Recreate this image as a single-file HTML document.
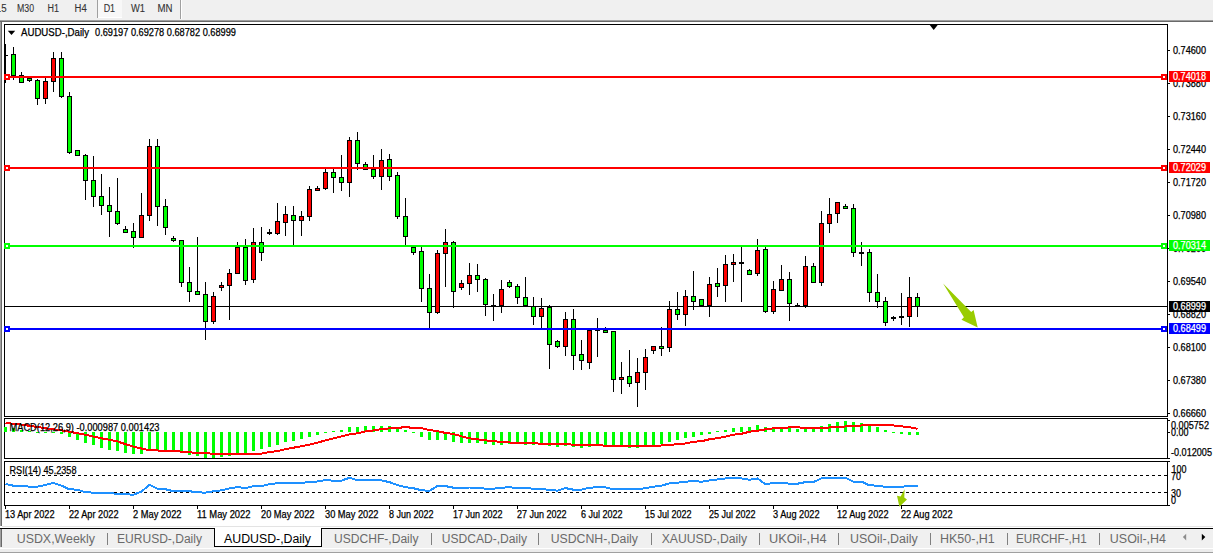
<!DOCTYPE html>
<html><head><meta charset="utf-8"><title>AUDUSD-,Daily</title>
<style>
html,body{margin:0;padding:0;background:#fff;}
body{width:1213px;height:555px;overflow:hidden;font-family:"Liberation Sans", sans-serif;}
svg text{white-space:pre;}
</style></head><body>
<svg width="1213" height="555" viewBox="0 0 1213 555" font-family='"Liberation Sans", sans-serif' style="display:block">
<rect x="0" y="0" width="1213" height="555" fill="#ffffff"/>
<rect x="0" y="0" width="1213" height="20" fill="#f0f0f0"/>
<rect x="0" y="20" width="1213" height="1" fill="#a0a0a0"/>
<rect x="0" y="21" width="1213" height="1" fill="#696969"/>
<rect x="97" y="0" width="1" height="18" fill="#a0a0a0"/>
<rect x="98" y="0" width="24" height="17" fill="#f8f8f8"/>
<rect x="98" y="17" width="24" height="1" fill="#ffffff"/>
<rect x="180" y="0" width="1" height="19" fill="#a0a0a0"/>
<rect x="181" y="0" width="1" height="19" fill="#ffffff"/>
<text x="-4.2" y="12" font-size="10" fill="#333333" stroke="#333333" stroke-width="0.1" textLength="10.8" lengthAdjust="spacingAndGlyphs" text-anchor="start" font-weight="normal">15</text>
<text x="17" y="12" font-size="10" fill="#333333" stroke="#333333" stroke-width="0.1" textLength="17" lengthAdjust="spacingAndGlyphs" text-anchor="start" font-weight="normal">M30</text>
<text x="47.5" y="12" font-size="10" fill="#333333" stroke="#333333" stroke-width="0.1" textLength="11.5" lengthAdjust="spacingAndGlyphs" text-anchor="start" font-weight="normal">H1</text>
<text x="74.5" y="12" font-size="10" fill="#333333" stroke="#333333" stroke-width="0.1" textLength="12.2" lengthAdjust="spacingAndGlyphs" text-anchor="start" font-weight="normal">H4</text>
<text x="103.7" y="12" font-size="10" fill="#333333" stroke="#333333" stroke-width="0.1" textLength="11.4" lengthAdjust="spacingAndGlyphs" text-anchor="start" font-weight="normal">D1</text>
<text x="131" y="12" font-size="10" fill="#333333" stroke="#333333" stroke-width="0.1" textLength="14" lengthAdjust="spacingAndGlyphs" text-anchor="start" font-weight="normal">W1</text>
<text x="157.5" y="12" font-size="10" fill="#333333" stroke="#333333" stroke-width="0.1" textLength="15" lengthAdjust="spacingAndGlyphs" text-anchor="start" font-weight="normal">MN</text>
<rect x="0" y="22" width="1" height="504" fill="#a0a0a0"/>
<rect x="1" y="22" width="1" height="504" fill="#696969"/>
<g shape-rendering="crispEdges">
<rect x="5" y="306" width="1162" height="1" fill="#000000"/>
<rect x="13" y="47" width="1" height="33" fill="#000"/>
<rect x="11" y="54" width="5" height="22" fill="#000"/>
<rect x="12" y="55" width="3" height="20" fill="#00ff00"/>
<rect x="21" y="72" width="1" height="11" fill="#000"/>
<rect x="19" y="75" width="5" height="8" fill="#000"/>
<rect x="20" y="76" width="3" height="6" fill="#00ff00"/>
<rect x="29" y="78" width="1" height="4" fill="#000"/>
<rect x="27" y="78" width="5" height="3" fill="#000"/>
<rect x="28" y="79" width="3" height="1" fill="#00ff00"/>
<rect x="37" y="79" width="1" height="26" fill="#000"/>
<rect x="35" y="80" width="5" height="19" fill="#000"/>
<rect x="36" y="81" width="3" height="17" fill="#00ff00"/>
<rect x="45" y="78" width="1" height="26" fill="#000"/>
<rect x="43" y="81" width="5" height="18" fill="#000"/>
<rect x="44" y="82" width="3" height="16" fill="#ff0000"/>
<rect x="53" y="52" width="1" height="40" fill="#000"/>
<rect x="51" y="58" width="5" height="24" fill="#000"/>
<rect x="52" y="59" width="3" height="22" fill="#ff0000"/>
<rect x="61" y="52" width="1" height="46" fill="#000"/>
<rect x="59" y="58" width="5" height="39" fill="#000"/>
<rect x="60" y="59" width="3" height="37" fill="#00ff00"/>
<rect x="69" y="92" width="1" height="62" fill="#000"/>
<rect x="67" y="96" width="5" height="57" fill="#000"/>
<rect x="68" y="97" width="3" height="55" fill="#00ff00"/>
<rect x="77" y="150" width="1" height="6" fill="#000"/>
<rect x="75" y="150" width="5" height="6" fill="#000"/>
<rect x="76" y="151" width="3" height="4" fill="#00ff00"/>
<rect x="85" y="154" width="1" height="46" fill="#000"/>
<rect x="83" y="155" width="5" height="26" fill="#000"/>
<rect x="84" y="156" width="3" height="24" fill="#00ff00"/>
<rect x="93" y="156" width="1" height="51" fill="#000"/>
<rect x="91" y="180" width="5" height="17" fill="#000"/>
<rect x="92" y="181" width="3" height="15" fill="#00ff00"/>
<rect x="101" y="174" width="1" height="41" fill="#000"/>
<rect x="99" y="196" width="5" height="10" fill="#000"/>
<rect x="100" y="197" width="3" height="8" fill="#00ff00"/>
<rect x="109" y="187" width="1" height="50" fill="#000"/>
<rect x="107" y="205" width="5" height="7" fill="#000"/>
<rect x="108" y="206" width="3" height="5" fill="#00ff00"/>
<rect x="117" y="178" width="1" height="47" fill="#000"/>
<rect x="115" y="211" width="5" height="13" fill="#000"/>
<rect x="116" y="212" width="3" height="11" fill="#00ff00"/>
<rect x="125" y="226" width="1" height="7" fill="#000"/>
<rect x="123" y="229" width="5" height="4" fill="#000"/>
<rect x="124" y="230" width="3" height="2" fill="#00ff00"/>
<rect x="133" y="223" width="1" height="25" fill="#000"/>
<rect x="131" y="231" width="5" height="7" fill="#000"/>
<rect x="132" y="232" width="3" height="5" fill="#00ff00"/>
<rect x="141" y="193" width="1" height="45" fill="#000"/>
<rect x="139" y="215" width="5" height="23" fill="#000"/>
<rect x="140" y="216" width="3" height="21" fill="#ff0000"/>
<rect x="149" y="139" width="1" height="82" fill="#000"/>
<rect x="147" y="146" width="5" height="70" fill="#000"/>
<rect x="148" y="147" width="3" height="68" fill="#ff0000"/>
<rect x="157" y="139" width="1" height="87" fill="#000"/>
<rect x="155" y="146" width="5" height="61" fill="#000"/>
<rect x="156" y="147" width="3" height="59" fill="#00ff00"/>
<rect x="165" y="199" width="1" height="36" fill="#000"/>
<rect x="163" y="206" width="5" height="22" fill="#000"/>
<rect x="164" y="207" width="3" height="20" fill="#00ff00"/>
<rect x="173" y="236" width="1" height="6" fill="#000"/>
<rect x="171" y="238" width="5" height="3" fill="#000"/>
<rect x="172" y="239" width="3" height="1" fill="#00ff00"/>
<rect x="181" y="240" width="1" height="47" fill="#000"/>
<rect x="179" y="240" width="5" height="43" fill="#000"/>
<rect x="180" y="241" width="3" height="41" fill="#00ff00"/>
<rect x="189" y="267" width="1" height="35" fill="#000"/>
<rect x="187" y="282" width="5" height="10" fill="#000"/>
<rect x="188" y="283" width="3" height="8" fill="#00ff00"/>
<rect x="197" y="237" width="1" height="58" fill="#000"/>
<rect x="195" y="291" width="5" height="4" fill="#000"/>
<rect x="196" y="292" width="3" height="2" fill="#00ff00"/>
<rect x="205" y="282" width="1" height="58" fill="#000"/>
<rect x="203" y="294" width="5" height="28" fill="#000"/>
<rect x="204" y="295" width="3" height="26" fill="#00ff00"/>
<rect x="213" y="292" width="1" height="32" fill="#000"/>
<rect x="211" y="296" width="5" height="26" fill="#000"/>
<rect x="212" y="297" width="3" height="24" fill="#ff0000"/>
<rect x="221" y="282" width="1" height="9" fill="#000"/>
<rect x="219" y="285" width="5" height="3" fill="#000"/>
<rect x="220" y="286" width="3" height="1" fill="#ff0000"/>
<rect x="229" y="269" width="1" height="51" fill="#000"/>
<rect x="227" y="273" width="5" height="13" fill="#000"/>
<rect x="228" y="274" width="3" height="11" fill="#ff0000"/>
<rect x="237" y="242" width="1" height="32" fill="#000"/>
<rect x="235" y="247" width="5" height="27" fill="#000"/>
<rect x="236" y="248" width="3" height="25" fill="#ff0000"/>
<rect x="245" y="239" width="1" height="46" fill="#000"/>
<rect x="243" y="247" width="5" height="34" fill="#000"/>
<rect x="244" y="248" width="3" height="32" fill="#00ff00"/>
<rect x="253" y="228" width="1" height="55" fill="#000"/>
<rect x="251" y="242" width="5" height="38" fill="#000"/>
<rect x="252" y="243" width="3" height="36" fill="#ff0000"/>
<rect x="261" y="227" width="1" height="34" fill="#000"/>
<rect x="259" y="242" width="5" height="11" fill="#000"/>
<rect x="260" y="243" width="3" height="9" fill="#00ff00"/>
<rect x="269" y="229" width="1" height="6" fill="#000"/>
<rect x="267" y="232" width="5" height="2" fill="#000"/>
<rect x="277" y="203" width="1" height="32" fill="#000"/>
<rect x="275" y="221" width="5" height="13" fill="#000"/>
<rect x="276" y="222" width="3" height="11" fill="#ff0000"/>
<rect x="285" y="206" width="1" height="30" fill="#000"/>
<rect x="283" y="214" width="5" height="9" fill="#000"/>
<rect x="284" y="215" width="3" height="7" fill="#ff0000"/>
<rect x="293" y="206" width="1" height="39" fill="#000"/>
<rect x="291" y="215" width="5" height="6" fill="#000"/>
<rect x="292" y="216" width="3" height="4" fill="#00ff00"/>
<rect x="301" y="211" width="1" height="25" fill="#000"/>
<rect x="299" y="216" width="5" height="5" fill="#000"/>
<rect x="300" y="217" width="3" height="3" fill="#ff0000"/>
<rect x="309" y="186" width="1" height="35" fill="#000"/>
<rect x="307" y="189" width="5" height="28" fill="#000"/>
<rect x="308" y="190" width="3" height="26" fill="#ff0000"/>
<rect x="317" y="186" width="1" height="5" fill="#000"/>
<rect x="315" y="188" width="5" height="3" fill="#000"/>
<rect x="316" y="189" width="3" height="1" fill="#ff0000"/>
<rect x="325" y="169" width="1" height="21" fill="#000"/>
<rect x="323" y="172" width="5" height="17" fill="#000"/>
<rect x="324" y="173" width="3" height="15" fill="#ff0000"/>
<rect x="333" y="169" width="1" height="24" fill="#000"/>
<rect x="331" y="172" width="5" height="6" fill="#000"/>
<rect x="332" y="173" width="3" height="4" fill="#00ff00"/>
<rect x="341" y="155" width="1" height="36" fill="#000"/>
<rect x="339" y="177" width="5" height="6" fill="#000"/>
<rect x="340" y="178" width="3" height="4" fill="#00ff00"/>
<rect x="349" y="137" width="1" height="60" fill="#000"/>
<rect x="347" y="140" width="5" height="43" fill="#000"/>
<rect x="348" y="141" width="3" height="41" fill="#ff0000"/>
<rect x="357" y="132" width="1" height="38" fill="#000"/>
<rect x="355" y="140" width="5" height="24" fill="#000"/>
<rect x="356" y="141" width="3" height="22" fill="#00ff00"/>
<rect x="365" y="162" width="1" height="8" fill="#000"/>
<rect x="363" y="164" width="5" height="6" fill="#000"/>
<rect x="364" y="165" width="3" height="4" fill="#00ff00"/>
<rect x="373" y="155" width="1" height="24" fill="#000"/>
<rect x="371" y="169" width="5" height="8" fill="#000"/>
<rect x="372" y="170" width="3" height="6" fill="#00ff00"/>
<rect x="381" y="149" width="1" height="41" fill="#000"/>
<rect x="379" y="160" width="5" height="17" fill="#000"/>
<rect x="380" y="161" width="3" height="15" fill="#ff0000"/>
<rect x="389" y="154" width="1" height="27" fill="#000"/>
<rect x="387" y="159" width="5" height="18" fill="#000"/>
<rect x="388" y="160" width="3" height="16" fill="#00ff00"/>
<rect x="397" y="172" width="1" height="47" fill="#000"/>
<rect x="395" y="175" width="5" height="42" fill="#000"/>
<rect x="396" y="176" width="3" height="40" fill="#00ff00"/>
<rect x="405" y="198" width="1" height="47" fill="#000"/>
<rect x="403" y="216" width="5" height="21" fill="#000"/>
<rect x="404" y="217" width="3" height="19" fill="#00ff00"/>
<rect x="413" y="245" width="1" height="10" fill="#000"/>
<rect x="411" y="247" width="5" height="6" fill="#000"/>
<rect x="412" y="248" width="3" height="4" fill="#00ff00"/>
<rect x="421" y="247" width="1" height="55" fill="#000"/>
<rect x="419" y="251" width="5" height="38" fill="#000"/>
<rect x="420" y="252" width="3" height="36" fill="#00ff00"/>
<rect x="429" y="274" width="1" height="54" fill="#000"/>
<rect x="427" y="288" width="5" height="25" fill="#000"/>
<rect x="428" y="289" width="3" height="23" fill="#00ff00"/>
<rect x="437" y="250" width="1" height="64" fill="#000"/>
<rect x="435" y="253" width="5" height="60" fill="#000"/>
<rect x="436" y="254" width="3" height="58" fill="#ff0000"/>
<rect x="445" y="229" width="1" height="58" fill="#000"/>
<rect x="443" y="242" width="5" height="12" fill="#000"/>
<rect x="444" y="243" width="3" height="10" fill="#ff0000"/>
<rect x="453" y="241" width="1" height="67" fill="#000"/>
<rect x="451" y="242" width="5" height="50" fill="#000"/>
<rect x="452" y="243" width="3" height="48" fill="#00ff00"/>
<rect x="461" y="280" width="1" height="10" fill="#000"/>
<rect x="459" y="283" width="5" height="5" fill="#000"/>
<rect x="460" y="284" width="3" height="3" fill="#ff0000"/>
<rect x="469" y="263" width="1" height="32" fill="#000"/>
<rect x="467" y="275" width="5" height="9" fill="#000"/>
<rect x="468" y="276" width="3" height="7" fill="#ff0000"/>
<rect x="477" y="264" width="1" height="28" fill="#000"/>
<rect x="475" y="275" width="5" height="5" fill="#000"/>
<rect x="476" y="276" width="3" height="3" fill="#00ff00"/>
<rect x="485" y="278" width="1" height="38" fill="#000"/>
<rect x="483" y="279" width="5" height="26" fill="#000"/>
<rect x="484" y="280" width="3" height="24" fill="#00ff00"/>
<rect x="493" y="294" width="1" height="27" fill="#000"/>
<rect x="491" y="305" width="5" height="2" fill="#000"/>
<rect x="501" y="280" width="1" height="33" fill="#000"/>
<rect x="499" y="289" width="5" height="17" fill="#000"/>
<rect x="500" y="290" width="3" height="15" fill="#ff0000"/>
<rect x="509" y="280" width="1" height="8" fill="#000"/>
<rect x="507" y="282" width="5" height="5" fill="#000"/>
<rect x="508" y="283" width="3" height="3" fill="#00ff00"/>
<rect x="517" y="284" width="1" height="20" fill="#000"/>
<rect x="515" y="286" width="5" height="12" fill="#000"/>
<rect x="516" y="287" width="3" height="10" fill="#00ff00"/>
<rect x="525" y="277" width="1" height="29" fill="#000"/>
<rect x="523" y="297" width="5" height="9" fill="#000"/>
<rect x="524" y="298" width="3" height="7" fill="#00ff00"/>
<rect x="533" y="297" width="1" height="28" fill="#000"/>
<rect x="531" y="306" width="5" height="11" fill="#000"/>
<rect x="532" y="307" width="3" height="9" fill="#00ff00"/>
<rect x="541" y="298" width="1" height="30" fill="#000"/>
<rect x="539" y="308" width="5" height="9" fill="#000"/>
<rect x="540" y="309" width="3" height="7" fill="#ff0000"/>
<rect x="549" y="305" width="1" height="64" fill="#000"/>
<rect x="547" y="307" width="5" height="38" fill="#000"/>
<rect x="548" y="308" width="3" height="36" fill="#00ff00"/>
<rect x="557" y="340" width="1" height="8" fill="#000"/>
<rect x="555" y="341" width="5" height="6" fill="#000"/>
<rect x="556" y="342" width="3" height="4" fill="#00ff00"/>
<rect x="565" y="312" width="1" height="44" fill="#000"/>
<rect x="563" y="319" width="5" height="28" fill="#000"/>
<rect x="564" y="320" width="3" height="26" fill="#ff0000"/>
<rect x="573" y="309" width="1" height="61" fill="#000"/>
<rect x="571" y="319" width="5" height="37" fill="#000"/>
<rect x="572" y="320" width="3" height="35" fill="#00ff00"/>
<rect x="581" y="340" width="1" height="30" fill="#000"/>
<rect x="579" y="354" width="5" height="7" fill="#000"/>
<rect x="580" y="355" width="3" height="5" fill="#00ff00"/>
<rect x="589" y="330" width="1" height="39" fill="#000"/>
<rect x="587" y="330" width="5" height="33" fill="#000"/>
<rect x="588" y="331" width="3" height="31" fill="#ff0000"/>
<rect x="597" y="318" width="1" height="39" fill="#000"/>
<rect x="595" y="329" width="5" height="2" fill="#000"/>
<rect x="605" y="327" width="1" height="6" fill="#000"/>
<rect x="603" y="330" width="5" height="3" fill="#000"/>
<rect x="604" y="331" width="3" height="1" fill="#00ff00"/>
<rect x="613" y="331" width="1" height="61" fill="#000"/>
<rect x="611" y="331" width="5" height="49" fill="#000"/>
<rect x="612" y="332" width="3" height="47" fill="#00ff00"/>
<rect x="621" y="362" width="1" height="32" fill="#000"/>
<rect x="619" y="377" width="5" height="3" fill="#000"/>
<rect x="620" y="378" width="3" height="1" fill="#ff0000"/>
<rect x="629" y="350" width="1" height="37" fill="#000"/>
<rect x="627" y="376" width="5" height="8" fill="#000"/>
<rect x="628" y="377" width="3" height="6" fill="#00ff00"/>
<rect x="637" y="358" width="1" height="49" fill="#000"/>
<rect x="635" y="372" width="5" height="11" fill="#000"/>
<rect x="636" y="373" width="3" height="9" fill="#ff0000"/>
<rect x="645" y="349" width="1" height="41" fill="#000"/>
<rect x="643" y="357" width="5" height="16" fill="#000"/>
<rect x="644" y="358" width="3" height="14" fill="#ff0000"/>
<rect x="653" y="346" width="1" height="8" fill="#000"/>
<rect x="651" y="346" width="5" height="5" fill="#000"/>
<rect x="652" y="347" width="3" height="3" fill="#ff0000"/>
<rect x="661" y="327" width="1" height="29" fill="#000"/>
<rect x="659" y="346" width="5" height="3" fill="#000"/>
<rect x="660" y="347" width="3" height="1" fill="#00ff00"/>
<rect x="669" y="301" width="1" height="51" fill="#000"/>
<rect x="667" y="309" width="5" height="39" fill="#000"/>
<rect x="668" y="310" width="3" height="37" fill="#ff0000"/>
<rect x="677" y="292" width="1" height="28" fill="#000"/>
<rect x="675" y="309" width="5" height="6" fill="#000"/>
<rect x="676" y="310" width="3" height="4" fill="#00ff00"/>
<rect x="685" y="290" width="1" height="36" fill="#000"/>
<rect x="683" y="296" width="5" height="19" fill="#000"/>
<rect x="684" y="297" width="3" height="17" fill="#ff0000"/>
<rect x="693" y="271" width="1" height="39" fill="#000"/>
<rect x="691" y="296" width="5" height="6" fill="#000"/>
<rect x="692" y="297" width="3" height="4" fill="#00ff00"/>
<rect x="701" y="299" width="1" height="7" fill="#000"/>
<rect x="699" y="299" width="5" height="7" fill="#000"/>
<rect x="700" y="300" width="3" height="5" fill="#00ff00"/>
<rect x="709" y="277" width="1" height="40" fill="#000"/>
<rect x="707" y="284" width="5" height="22" fill="#000"/>
<rect x="708" y="285" width="3" height="20" fill="#ff0000"/>
<rect x="717" y="268" width="1" height="29" fill="#000"/>
<rect x="715" y="283" width="5" height="4" fill="#000"/>
<rect x="716" y="284" width="3" height="2" fill="#00ff00"/>
<rect x="725" y="255" width="1" height="47" fill="#000"/>
<rect x="723" y="264" width="5" height="22" fill="#000"/>
<rect x="724" y="265" width="3" height="20" fill="#ff0000"/>
<rect x="733" y="254" width="1" height="28" fill="#000"/>
<rect x="731" y="262" width="5" height="3" fill="#000"/>
<rect x="732" y="263" width="3" height="1" fill="#ff0000"/>
<rect x="741" y="247" width="1" height="55" fill="#000"/>
<rect x="739" y="262" width="5" height="2" fill="#000"/>
<rect x="749" y="269" width="1" height="6" fill="#000"/>
<rect x="747" y="270" width="5" height="5" fill="#000"/>
<rect x="748" y="271" width="3" height="3" fill="#00ff00"/>
<rect x="757" y="239" width="1" height="37" fill="#000"/>
<rect x="755" y="250" width="5" height="24" fill="#000"/>
<rect x="756" y="251" width="3" height="22" fill="#ff0000"/>
<rect x="765" y="247" width="1" height="66" fill="#000"/>
<rect x="763" y="249" width="5" height="63" fill="#000"/>
<rect x="764" y="250" width="3" height="61" fill="#00ff00"/>
<rect x="773" y="281" width="1" height="33" fill="#000"/>
<rect x="771" y="289" width="5" height="23" fill="#000"/>
<rect x="772" y="290" width="3" height="21" fill="#ff0000"/>
<rect x="781" y="265" width="1" height="26" fill="#000"/>
<rect x="779" y="279" width="5" height="12" fill="#000"/>
<rect x="780" y="280" width="3" height="10" fill="#ff0000"/>
<rect x="789" y="272" width="1" height="49" fill="#000"/>
<rect x="787" y="279" width="5" height="25" fill="#000"/>
<rect x="788" y="280" width="3" height="23" fill="#00ff00"/>
<rect x="797" y="303" width="1" height="4" fill="#000"/>
<rect x="795" y="305" width="5" height="2" fill="#000"/>
<rect x="805" y="256" width="1" height="52" fill="#000"/>
<rect x="803" y="266" width="5" height="40" fill="#000"/>
<rect x="804" y="267" width="3" height="38" fill="#ff0000"/>
<rect x="813" y="263" width="1" height="20" fill="#000"/>
<rect x="811" y="266" width="5" height="17" fill="#000"/>
<rect x="812" y="267" width="3" height="15" fill="#00ff00"/>
<rect x="821" y="211" width="1" height="75" fill="#000"/>
<rect x="819" y="223" width="5" height="60" fill="#000"/>
<rect x="820" y="224" width="3" height="58" fill="#ff0000"/>
<rect x="829" y="198" width="1" height="35" fill="#000"/>
<rect x="827" y="214" width="5" height="10" fill="#000"/>
<rect x="828" y="215" width="3" height="8" fill="#ff0000"/>
<rect x="837" y="202" width="1" height="21" fill="#000"/>
<rect x="835" y="202" width="5" height="12" fill="#000"/>
<rect x="836" y="203" width="3" height="10" fill="#ff0000"/>
<rect x="845" y="204" width="1" height="5" fill="#000"/>
<rect x="843" y="206" width="5" height="3" fill="#000"/>
<rect x="844" y="207" width="3" height="1" fill="#00ff00"/>
<rect x="853" y="204" width="1" height="53" fill="#000"/>
<rect x="851" y="208" width="5" height="45" fill="#000"/>
<rect x="852" y="209" width="3" height="43" fill="#00ff00"/>
<rect x="861" y="242" width="1" height="24" fill="#000"/>
<rect x="859" y="252" width="5" height="2" fill="#000"/>
<rect x="869" y="249" width="1" height="53" fill="#000"/>
<rect x="867" y="252" width="5" height="41" fill="#000"/>
<rect x="868" y="253" width="3" height="39" fill="#00ff00"/>
<rect x="877" y="274" width="1" height="34" fill="#000"/>
<rect x="875" y="292" width="5" height="10" fill="#000"/>
<rect x="876" y="293" width="3" height="8" fill="#00ff00"/>
<rect x="885" y="297" width="1" height="29" fill="#000"/>
<rect x="883" y="301" width="5" height="22" fill="#000"/>
<rect x="884" y="302" width="3" height="20" fill="#00ff00"/>
<rect x="893" y="316" width="1" height="5" fill="#000"/>
<rect x="891" y="317" width="5" height="2" fill="#000"/>
<rect x="901" y="293" width="1" height="32" fill="#000"/>
<rect x="899" y="316" width="5" height="2" fill="#000"/>
<rect x="909" y="277" width="1" height="50" fill="#000"/>
<rect x="907" y="297" width="5" height="20" fill="#000"/>
<rect x="908" y="298" width="3" height="18" fill="#ff0000"/>
<rect x="917" y="293" width="1" height="24" fill="#000"/>
<rect x="915" y="297" width="5" height="10" fill="#000"/>
<rect x="916" y="298" width="3" height="8" fill="#00ff00"/>
<rect x="5" y="44" width="1" height="39" fill="#000"/>
<rect x="5" y="55" width="3" height="1" fill="#000"/>
<rect x="5" y="76" width="1162" height="2" fill="#ff0000"/>
<rect x="5" y="167" width="1162" height="2" fill="#ff0000"/>
<rect x="5" y="245" width="1162" height="2" fill="#00ff00"/>
<rect x="5" y="328" width="1162" height="2" fill="#0000ff"/>
<rect x="4" y="74" width="6" height="6" fill="#ff0000"/>
<rect x="6" y="76" width="2" height="2" fill="#ffffff"/>
<rect x="1161" y="74" width="6" height="6" fill="#ff0000"/>
<rect x="1163" y="76" width="2" height="2" fill="#ffffff"/>
<rect x="4" y="165" width="6" height="6" fill="#ff0000"/>
<rect x="6" y="167" width="2" height="2" fill="#ffffff"/>
<rect x="1161" y="165" width="6" height="6" fill="#ff0000"/>
<rect x="1163" y="167" width="2" height="2" fill="#ffffff"/>
<rect x="4" y="243" width="6" height="6" fill="#00ff00"/>
<rect x="6" y="245" width="2" height="2" fill="#ffffff"/>
<rect x="1161" y="243" width="6" height="6" fill="#00ff00"/>
<rect x="1163" y="245" width="2" height="2" fill="#ffffff"/>
<rect x="4" y="326" width="6" height="6" fill="#0000ff"/>
<rect x="6" y="328" width="2" height="2" fill="#ffffff"/>
<rect x="1161" y="326" width="6" height="6" fill="#0000ff"/>
<rect x="1163" y="328" width="2" height="2" fill="#ffffff"/>
</g>
<polygon points="943.1,283.4 971.2,311.9 973.6,310 977.7,327.4 961.5,319.7 963.9,317.3" fill="#99cc00"/>
<g shape-rendering="crispEdges" fill="none" stroke="#000" stroke-width="1">
<rect x="4.5" y="24.5" width="1163" height="392"/>
<rect x="4.5" y="418.5" width="1163" height="40"/>
<rect x="4.5" y="461.5" width="1163" height="44"/>
</g>
<g shape-rendering="crispEdges">
<rect x="4" y="74" width="6" height="6" fill="#ff0000"/>
<rect x="6" y="76" width="2" height="2" fill="#ffffff"/>
<rect x="4" y="165" width="6" height="6" fill="#ff0000"/>
<rect x="6" y="167" width="2" height="2" fill="#ffffff"/>
<rect x="4" y="243" width="6" height="6" fill="#00ff00"/>
<rect x="6" y="245" width="2" height="2" fill="#ffffff"/>
<rect x="4" y="326" width="6" height="6" fill="#0000ff"/>
<rect x="6" y="328" width="2" height="2" fill="#ffffff"/>
</g>
<polygon points="929,24 938.5,24 933.7,30" fill="#000"/>
<polygon points="7.8,30.8 15.2,30.8 11.5,35" fill="#000"/>
<text x="21" y="36" font-size="10" fill="#000" stroke="#000" stroke-width="0.25" textLength="68" lengthAdjust="spacingAndGlyphs" text-anchor="start" font-weight="normal">AUDUSD-,Daily</text>
<text x="95" y="36" font-size="10" fill="#000" stroke="#000" stroke-width="0.25" textLength="141" lengthAdjust="spacingAndGlyphs" text-anchor="start" font-weight="normal">0.69197 0.69278 0.68782 0.68999</text>
<g shape-rendering="crispEdges">
<rect x="1168" y="50" width="2" height="1" fill="#000"/>
<rect x="1168" y="83" width="2" height="1" fill="#000"/>
<rect x="1168" y="116" width="2" height="1" fill="#000"/>
<rect x="1168" y="149" width="2" height="1" fill="#000"/>
<rect x="1168" y="182" width="2" height="1" fill="#000"/>
<rect x="1168" y="215" width="2" height="1" fill="#000"/>
<rect x="1168" y="248" width="2" height="1" fill="#000"/>
<rect x="1168" y="281" width="2" height="1" fill="#000"/>
<rect x="1168" y="314" width="2" height="1" fill="#000"/>
<rect x="1168" y="347" width="2" height="1" fill="#000"/>
<rect x="1168" y="380" width="2" height="1" fill="#000"/>
<rect x="1168" y="413" width="2" height="1" fill="#000"/>
</g>
<text x="1173" y="54" font-size="10" fill="#000" stroke="#000" stroke-width="0.25" textLength="33" lengthAdjust="spacingAndGlyphs" text-anchor="start" font-weight="normal">0.74600</text>
<text x="1173" y="87" font-size="10" fill="#000" stroke="#000" stroke-width="0.25" textLength="33" lengthAdjust="spacingAndGlyphs" text-anchor="start" font-weight="normal">0.73880</text>
<text x="1173" y="120" font-size="10" fill="#000" stroke="#000" stroke-width="0.25" textLength="33" lengthAdjust="spacingAndGlyphs" text-anchor="start" font-weight="normal">0.73160</text>
<text x="1173" y="153" font-size="10" fill="#000" stroke="#000" stroke-width="0.25" textLength="33" lengthAdjust="spacingAndGlyphs" text-anchor="start" font-weight="normal">0.72440</text>
<text x="1173" y="186" font-size="10" fill="#000" stroke="#000" stroke-width="0.25" textLength="33" lengthAdjust="spacingAndGlyphs" text-anchor="start" font-weight="normal">0.71720</text>
<text x="1173" y="219" font-size="10" fill="#000" stroke="#000" stroke-width="0.25" textLength="33" lengthAdjust="spacingAndGlyphs" text-anchor="start" font-weight="normal">0.70980</text>
<text x="1173" y="252" font-size="10" fill="#000" stroke="#000" stroke-width="0.25" textLength="33" lengthAdjust="spacingAndGlyphs" text-anchor="start" font-weight="normal">0.70260</text>
<text x="1173" y="285" font-size="10" fill="#000" stroke="#000" stroke-width="0.25" textLength="33" lengthAdjust="spacingAndGlyphs" text-anchor="start" font-weight="normal">0.69540</text>
<text x="1173" y="318" font-size="10" fill="#000" stroke="#000" stroke-width="0.25" textLength="33" lengthAdjust="spacingAndGlyphs" text-anchor="start" font-weight="normal">0.68820</text>
<text x="1173" y="351" font-size="10" fill="#000" stroke="#000" stroke-width="0.25" textLength="33" lengthAdjust="spacingAndGlyphs" text-anchor="start" font-weight="normal">0.68100</text>
<text x="1173" y="384" font-size="10" fill="#000" stroke="#000" stroke-width="0.25" textLength="33" lengthAdjust="spacingAndGlyphs" text-anchor="start" font-weight="normal">0.67380</text>
<text x="1173" y="417" font-size="10" fill="#000" stroke="#000" stroke-width="0.25" textLength="33" lengthAdjust="spacingAndGlyphs" text-anchor="start" font-weight="normal">0.66660</text>
<rect x="1169" y="71" width="41" height="11" fill="#ff0000" shape-rendering="crispEdges"/>
<text x="1173" y="80" font-size="10" fill="#fff" stroke="#fff" stroke-width="0.25" textLength="33" lengthAdjust="spacingAndGlyphs" text-anchor="start" font-weight="normal">0.74018</text>
<rect x="1169" y="162" width="41" height="11" fill="#ff0000" shape-rendering="crispEdges"/>
<text x="1173" y="171" font-size="10" fill="#fff" stroke="#fff" stroke-width="0.25" textLength="33" lengthAdjust="spacingAndGlyphs" text-anchor="start" font-weight="normal">0.72029</text>
<rect x="1169" y="240" width="41" height="11" fill="#00ff00" shape-rendering="crispEdges"/>
<text x="1173" y="249" font-size="10" fill="#fff" stroke="#fff" stroke-width="0.25" textLength="33" lengthAdjust="spacingAndGlyphs" text-anchor="start" font-weight="normal">0.70314</text>
<rect x="1169" y="301" width="41" height="11" fill="#000000" shape-rendering="crispEdges"/>
<text x="1173" y="310" font-size="10" fill="#fff" stroke="#fff" stroke-width="0.25" textLength="33" lengthAdjust="spacingAndGlyphs" text-anchor="start" font-weight="normal">0.68999</text>
<rect x="1169" y="323" width="41" height="11" fill="#0000ff" shape-rendering="crispEdges"/>
<text x="1173" y="332" font-size="10" fill="#fff" stroke="#fff" stroke-width="0.25" textLength="33" lengthAdjust="spacingAndGlyphs" text-anchor="start" font-weight="normal">0.68499</text>
<g shape-rendering="crispEdges">
<rect x="4" y="427" width="3" height="5" fill="#00ff00"/>
<rect x="12" y="428" width="3" height="4" fill="#00ff00"/>
<rect x="20" y="430" width="3" height="2" fill="#00ff00"/>
<rect x="28" y="431" width="3" height="1" fill="#00ff00"/>
<rect x="36" y="432" width="3" height="1" fill="#00ff00"/>
<rect x="44" y="432" width="3" height="1" fill="#00ff00"/>
<rect x="52" y="432" width="3" height="1" fill="#00ff00"/>
<rect x="60" y="432" width="3" height="2" fill="#00ff00"/>
<rect x="68" y="432" width="3" height="5" fill="#00ff00"/>
<rect x="76" y="432" width="3" height="8" fill="#00ff00"/>
<rect x="84" y="432" width="3" height="11" fill="#00ff00"/>
<rect x="92" y="432" width="3" height="13" fill="#00ff00"/>
<rect x="100" y="432" width="3" height="16" fill="#00ff00"/>
<rect x="108" y="432" width="3" height="18" fill="#00ff00"/>
<rect x="116" y="432" width="3" height="19" fill="#00ff00"/>
<rect x="124" y="432" width="3" height="21" fill="#00ff00"/>
<rect x="132" y="432" width="3" height="22" fill="#00ff00"/>
<rect x="140" y="432" width="3" height="22" fill="#00ff00"/>
<rect x="148" y="432" width="3" height="19" fill="#00ff00"/>
<rect x="156" y="432" width="3" height="18" fill="#00ff00"/>
<rect x="164" y="432" width="3" height="19" fill="#00ff00"/>
<rect x="172" y="432" width="3" height="18" fill="#00ff00"/>
<rect x="180" y="432" width="3" height="21" fill="#00ff00"/>
<rect x="188" y="432" width="3" height="23" fill="#00ff00"/>
<rect x="196" y="432" width="3" height="24" fill="#00ff00"/>
<rect x="204" y="432" width="3" height="26" fill="#00ff00"/>
<rect x="212" y="432" width="3" height="26" fill="#00ff00"/>
<rect x="220" y="432" width="3" height="25" fill="#00ff00"/>
<rect x="228" y="432" width="3" height="24" fill="#00ff00"/>
<rect x="236" y="432" width="3" height="21" fill="#00ff00"/>
<rect x="244" y="432" width="3" height="21" fill="#00ff00"/>
<rect x="252" y="432" width="3" height="19" fill="#00ff00"/>
<rect x="260" y="432" width="3" height="17" fill="#00ff00"/>
<rect x="268" y="432" width="3" height="15" fill="#00ff00"/>
<rect x="276" y="432" width="3" height="13" fill="#00ff00"/>
<rect x="284" y="432" width="3" height="10" fill="#00ff00"/>
<rect x="292" y="432" width="3" height="9" fill="#00ff00"/>
<rect x="300" y="432" width="3" height="7" fill="#00ff00"/>
<rect x="308" y="432" width="3" height="5" fill="#00ff00"/>
<rect x="316" y="432" width="3" height="3" fill="#00ff00"/>
<rect x="324" y="432" width="3" height="1" fill="#00ff00"/>
<rect x="332" y="431" width="3" height="1" fill="#00ff00"/>
<rect x="340" y="430" width="3" height="2" fill="#00ff00"/>
<rect x="348" y="427" width="3" height="5" fill="#00ff00"/>
<rect x="356" y="427" width="3" height="5" fill="#00ff00"/>
<rect x="364" y="426" width="3" height="6" fill="#00ff00"/>
<rect x="372" y="426" width="3" height="6" fill="#00ff00"/>
<rect x="380" y="426" width="3" height="6" fill="#00ff00"/>
<rect x="388" y="426" width="3" height="6" fill="#00ff00"/>
<rect x="396" y="428" width="3" height="4" fill="#00ff00"/>
<rect x="404" y="430" width="3" height="2" fill="#00ff00"/>
<rect x="412" y="432" width="3" height="1" fill="#00ff00"/>
<rect x="420" y="432" width="3" height="5" fill="#00ff00"/>
<rect x="428" y="432" width="3" height="8" fill="#00ff00"/>
<rect x="436" y="432" width="3" height="8" fill="#00ff00"/>
<rect x="444" y="432" width="3" height="8" fill="#00ff00"/>
<rect x="452" y="432" width="3" height="10" fill="#00ff00"/>
<rect x="460" y="432" width="3" height="11" fill="#00ff00"/>
<rect x="468" y="432" width="3" height="11" fill="#00ff00"/>
<rect x="476" y="432" width="3" height="11" fill="#00ff00"/>
<rect x="484" y="432" width="3" height="12" fill="#00ff00"/>
<rect x="492" y="432" width="3" height="13" fill="#00ff00"/>
<rect x="500" y="432" width="3" height="13" fill="#00ff00"/>
<rect x="508" y="432" width="3" height="12" fill="#00ff00"/>
<rect x="516" y="432" width="3" height="11" fill="#00ff00"/>
<rect x="524" y="432" width="3" height="13" fill="#00ff00"/>
<rect x="532" y="432" width="3" height="13" fill="#00ff00"/>
<rect x="540" y="432" width="3" height="12" fill="#00ff00"/>
<rect x="548" y="432" width="3" height="14" fill="#00ff00"/>
<rect x="556" y="432" width="3" height="15" fill="#00ff00"/>
<rect x="564" y="432" width="3" height="14" fill="#00ff00"/>
<rect x="572" y="432" width="3" height="15" fill="#00ff00"/>
<rect x="580" y="432" width="3" height="16" fill="#00ff00"/>
<rect x="588" y="432" width="3" height="15" fill="#00ff00"/>
<rect x="596" y="432" width="3" height="12" fill="#00ff00"/>
<rect x="604" y="432" width="3" height="14" fill="#00ff00"/>
<rect x="612" y="432" width="3" height="13" fill="#00ff00"/>
<rect x="620" y="432" width="3" height="13" fill="#00ff00"/>
<rect x="628" y="432" width="3" height="16" fill="#00ff00"/>
<rect x="636" y="432" width="3" height="16" fill="#00ff00"/>
<rect x="644" y="432" width="3" height="13" fill="#00ff00"/>
<rect x="652" y="432" width="3" height="13" fill="#00ff00"/>
<rect x="660" y="432" width="3" height="12" fill="#00ff00"/>
<rect x="668" y="432" width="3" height="10" fill="#00ff00"/>
<rect x="676" y="432" width="3" height="8" fill="#00ff00"/>
<rect x="684" y="432" width="3" height="6" fill="#00ff00"/>
<rect x="692" y="432" width="3" height="5" fill="#00ff00"/>
<rect x="700" y="432" width="3" height="3" fill="#00ff00"/>
<rect x="708" y="432" width="3" height="2" fill="#00ff00"/>
<rect x="716" y="431" width="3" height="1" fill="#00ff00"/>
<rect x="724" y="430" width="3" height="2" fill="#00ff00"/>
<rect x="732" y="428" width="3" height="4" fill="#00ff00"/>
<rect x="740" y="427" width="3" height="5" fill="#00ff00"/>
<rect x="748" y="427" width="3" height="5" fill="#00ff00"/>
<rect x="756" y="425" width="3" height="7" fill="#00ff00"/>
<rect x="764" y="427" width="3" height="5" fill="#00ff00"/>
<rect x="772" y="427" width="3" height="5" fill="#00ff00"/>
<rect x="780" y="428" width="3" height="4" fill="#00ff00"/>
<rect x="788" y="427" width="3" height="5" fill="#00ff00"/>
<rect x="796" y="429" width="3" height="3" fill="#00ff00"/>
<rect x="804" y="428" width="3" height="4" fill="#00ff00"/>
<rect x="812" y="428" width="3" height="4" fill="#00ff00"/>
<rect x="820" y="426" width="3" height="6" fill="#00ff00"/>
<rect x="828" y="424" width="3" height="8" fill="#00ff00"/>
<rect x="836" y="422" width="3" height="10" fill="#00ff00"/>
<rect x="844" y="421" width="3" height="11" fill="#00ff00"/>
<rect x="852" y="422" width="3" height="10" fill="#00ff00"/>
<rect x="860" y="423" width="3" height="9" fill="#00ff00"/>
<rect x="868" y="426" width="3" height="6" fill="#00ff00"/>
<rect x="876" y="427" width="3" height="5" fill="#00ff00"/>
<rect x="884" y="430" width="3" height="2" fill="#00ff00"/>
<rect x="892" y="432" width="3" height="1" fill="#00ff00"/>
<rect x="900" y="432" width="3" height="2" fill="#00ff00"/>
<rect x="908" y="432" width="3" height="3" fill="#00ff00"/>
<rect x="916" y="432" width="3" height="3" fill="#00ff00"/>
</g>
<polyline points="5.5,423 13.5,423.7 21.5,424.6 29.5,425.8 37.5,427 45.5,428.3 53.5,429.3 61.5,430.3 69.5,431.8 77.5,433.2 85.5,434.8 93.5,436.6 101.5,438.3 109.5,439.8 117.5,441.4 125.5,444.2 133.5,446.7 141.5,448.5 149.5,450.2 157.5,450.5 165.5,450.9 173.5,451.1 181.5,451.6 189.5,452.4 197.5,452.8 205.5,453.4 213.5,453.6 221.5,454.2 229.5,454.3 237.5,454.1 245.5,454.1 253.5,454.1 261.5,453.6 269.5,452.1 277.5,451.1 285.5,449.2 293.5,447.7 301.5,446.2 309.5,444.7 317.5,442.7 325.5,440.3 333.5,438.3 341.5,436.3 349.5,434.3 357.5,433.3 365.5,431.4 373.5,430.4 381.5,429.1 389.5,428.4 397.5,427.9 405.5,427.1 413.5,427.9 421.5,428.1 429.5,430.1 437.5,431.1 445.5,433 453.5,434 461.5,436.3 469.5,438.3 477.5,439.3 485.5,440.3 493.5,441.2 501.5,441.9 509.5,442.5 517.5,442.9 525.5,442.9 533.5,442.9 541.5,443.9 549.5,443.9 557.5,443.9 565.5,443.9 573.5,444.8 581.5,444.8 589.5,444.8 597.5,444.8 605.5,445.8 613.5,445.8 621.5,445.8 629.5,445.8 637.5,445.8 645.5,445.8 653.5,445.8 661.5,445.5 669.5,444.8 677.5,444.3 685.5,443.5 693.5,441.8 701.5,441.2 709.5,439.3 717.5,438.2 725.5,436.6 733.5,434.7 741.5,433.8 749.5,431.7 757.5,430.8 765.5,429.3 773.5,428.3 781.5,428.3 789.5,427.3 797.5,427.3 805.5,428 813.5,428 821.5,428 829.5,427.5 837.5,427 845.5,426.5 853.5,426 861.5,425.5 869.5,425 877.5,425 885.5,425 893.5,425.5 901.5,426.3 909.5,427.2 917.5,428.8" fill="none" stroke="#ff0000" stroke-width="2" stroke-linejoin="round" shape-rendering="crispEdges"/>
<text x="9.5" y="431" font-size="10" fill="#000" stroke="#000" stroke-width="0.25" textLength="150" lengthAdjust="spacingAndGlyphs" text-anchor="start" font-weight="normal">MACD(12,26,9) -0.000987 0.001423</text>
<g shape-rendering="crispEdges">
<rect x="1168" y="420" width="2" height="1" fill="#000"/>
<rect x="1168" y="432" width="2" height="1" fill="#000"/>
<rect x="1168" y="458" width="2" height="1" fill="#000"/>
</g>
<text x="1171" y="429" font-size="10" fill="#000" stroke="#000" stroke-width="0.25" textLength="38" lengthAdjust="spacingAndGlyphs" text-anchor="start" font-weight="normal">0.005752</text>
<text x="1171" y="436" font-size="10" fill="#000" stroke="#000" stroke-width="0.25" textLength="17.5" lengthAdjust="spacingAndGlyphs" text-anchor="start" font-weight="normal">0.00</text>
<text x="1171" y="456" font-size="10" fill="#000" stroke="#000" stroke-width="0.25" textLength="41" lengthAdjust="spacingAndGlyphs" text-anchor="start" font-weight="normal">-0.012005</text>
<g shape-rendering="crispEdges">
<line x1="6" y1="475.5" x2="1167" y2="475.5" stroke="#000" stroke-width="1" stroke-dasharray="3,3"/>
<line x1="6" y1="492.5" x2="1167" y2="492.5" stroke="#000" stroke-width="1" stroke-dasharray="3,3"/>
<rect x="1164" y="475" width="3" height="1" fill="#000"/>
<rect x="1164" y="492" width="3" height="1" fill="#000"/>
<rect x="1168" y="461" width="2" height="1" fill="#000"/>
<rect x="1168" y="505" width="2" height="1" fill="#000"/>
</g>
<polyline points="5.5,483.9 13.5,485.7 21.5,485.9 29.5,486.7 37.5,486.7 45.5,484.9 53.5,482.9 61.5,485.7 69.5,489.3 77.5,489.7 85.5,492.3 93.5,492.6 101.5,492.6 109.5,493.4 117.5,493.6 125.5,494.4 133.5,494.6 141.5,491.6 149.5,484.7 157.5,488.7 165.5,489.3 173.5,491.2 181.5,491.2 189.5,491.2 197.5,492.4 205.5,492.6 213.5,491.2 221.5,490.3 229.5,488.4 237.5,487.1 245.5,488.1 253.5,486.1 261.5,486.1 269.5,484.1 277.5,483.3 285.5,482.7 293.5,482.7 301.5,482.7 309.5,482.3 317.5,481.5 325.5,480.0 333.5,480.7 341.5,480.7 349.5,477.7 357.5,480.4 365.5,480.4 373.5,480.4 381.5,480.4 389.5,482.2 397.5,485.1 405.5,487.1 413.5,488.3 421.5,490.2 429.5,490.9 437.5,485.9 445.5,486.1 453.5,487.7 461.5,487.7 469.5,487.5 477.5,487.7 485.5,488.7 493.5,488.7 501.5,487.7 509.5,487.3 517.5,488.1 525.5,488.1 533.5,488.7 541.5,488.7 549.5,490.1 557.5,490.6 565.5,488.1 573.5,489.7 581.5,489.7 589.5,487.7 597.5,487.3 605.5,487.3 613.5,489.3 621.5,489.3 629.5,489.3 637.5,489.3 645.5,488.1 653.5,486.7 661.5,485.7 669.5,483.3 677.5,482.7 685.5,481.7 693.5,481.1 701.5,481.7 709.5,480.4 717.5,479.4 725.5,478.4 733.5,477.8 741.5,478.4 749.5,479.8 757.5,478.4 765.5,484.3 773.5,482.9 781.5,482.9 789.5,483.7 797.5,483.7 805.5,482.1 813.5,482.1 821.5,478.2 829.5,477.8 837.5,477.8 845.5,477.8 853.5,481.7 861.5,481.7 869.5,485.3 877.5,485.7 885.5,486.9 893.5,486.9 901.5,486.9 909.5,485.7 917.5,485.7" fill="none" stroke="#1e90ff" stroke-width="2" stroke-linejoin="round" shape-rendering="crispEdges"/>
<text x="9.5" y="474" font-size="10" fill="#000" stroke="#000" stroke-width="0.25" textLength="67" lengthAdjust="spacingAndGlyphs" text-anchor="start" font-weight="normal">RSI(14) 45.2358</text>
<text x="1171.5" y="473" font-size="10" fill="#000" stroke="#000" stroke-width="0.25" textLength="15" lengthAdjust="spacingAndGlyphs" text-anchor="start" font-weight="normal">100</text>
<text x="1171" y="480" font-size="10" fill="#000" stroke="#000" stroke-width="0.25" textLength="10" lengthAdjust="spacingAndGlyphs" text-anchor="start" font-weight="normal">70</text>
<text x="1171" y="497" font-size="10" fill="#000" stroke="#000" stroke-width="0.25" textLength="10" lengthAdjust="spacingAndGlyphs" text-anchor="start" font-weight="normal">30</text>
<text x="1171" y="504" font-size="10" fill="#000" stroke="#000" stroke-width="0.25" textLength="5" lengthAdjust="spacingAndGlyphs" text-anchor="start" font-weight="normal">0</text>
<polygon points="904.6,489.2 904.3,497.6 907,499.4 899.4,506.8 897,495.8 900.6,496.4" fill="#99cc00"/>
<g shape-rendering="crispEdges">
<rect x="5" y="506" width="1" height="3" fill="#000"/>
<rect x="69" y="506" width="1" height="3" fill="#000"/>
<rect x="133" y="506" width="1" height="3" fill="#000"/>
<rect x="197" y="506" width="1" height="3" fill="#000"/>
<rect x="261" y="506" width="1" height="3" fill="#000"/>
<rect x="325" y="506" width="1" height="3" fill="#000"/>
<rect x="389" y="506" width="1" height="3" fill="#000"/>
<rect x="453" y="506" width="1" height="3" fill="#000"/>
<rect x="517" y="506" width="1" height="3" fill="#000"/>
<rect x="581" y="506" width="1" height="3" fill="#000"/>
<rect x="645" y="506" width="1" height="3" fill="#000"/>
<rect x="709" y="506" width="1" height="3" fill="#000"/>
<rect x="773" y="506" width="1" height="3" fill="#000"/>
<rect x="837" y="506" width="1" height="3" fill="#000"/>
<rect x="901" y="506" width="1" height="3" fill="#000"/>
</g>
<text x="5" y="518" font-size="10" fill="#000" stroke="#000" stroke-width="0.25" textLength="49.5" lengthAdjust="spacingAndGlyphs" text-anchor="start" font-weight="normal">13 Apr 2022</text>
<text x="69" y="518" font-size="10" fill="#000" stroke="#000" stroke-width="0.25" textLength="49.5" lengthAdjust="spacingAndGlyphs" text-anchor="start" font-weight="normal">22 Apr 2022</text>
<text x="133" y="518" font-size="10" fill="#000" stroke="#000" stroke-width="0.25" textLength="48.5" lengthAdjust="spacingAndGlyphs" text-anchor="start" font-weight="normal">2 May 2022</text>
<text x="197" y="518" font-size="10" fill="#000" stroke="#000" stroke-width="0.25" textLength="53.5" lengthAdjust="spacingAndGlyphs" text-anchor="start" font-weight="normal">11 May 2022</text>
<text x="261" y="518" font-size="10" fill="#000" stroke="#000" stroke-width="0.25" textLength="53.5" lengthAdjust="spacingAndGlyphs" text-anchor="start" font-weight="normal">20 May 2022</text>
<text x="325" y="518" font-size="10" fill="#000" stroke="#000" stroke-width="0.25" textLength="53.5" lengthAdjust="spacingAndGlyphs" text-anchor="start" font-weight="normal">30 May 2022</text>
<text x="389" y="518" font-size="10" fill="#000" stroke="#000" stroke-width="0.25" textLength="44.5" lengthAdjust="spacingAndGlyphs" text-anchor="start" font-weight="normal">8 Jun 2022</text>
<text x="453" y="518" font-size="10" fill="#000" stroke="#000" stroke-width="0.25" textLength="49.5" lengthAdjust="spacingAndGlyphs" text-anchor="start" font-weight="normal">17 Jun 2022</text>
<text x="517" y="518" font-size="10" fill="#000" stroke="#000" stroke-width="0.25" textLength="49.5" lengthAdjust="spacingAndGlyphs" text-anchor="start" font-weight="normal">27 Jun 2022</text>
<text x="581" y="518" font-size="10" fill="#000" stroke="#000" stroke-width="0.25" textLength="41.5" lengthAdjust="spacingAndGlyphs" text-anchor="start" font-weight="normal">6 Jul 2022</text>
<text x="645" y="518" font-size="10" fill="#000" stroke="#000" stroke-width="0.25" textLength="46.5" lengthAdjust="spacingAndGlyphs" text-anchor="start" font-weight="normal">15 Jul 2022</text>
<text x="709" y="518" font-size="10" fill="#000" stroke="#000" stroke-width="0.25" textLength="46.5" lengthAdjust="spacingAndGlyphs" text-anchor="start" font-weight="normal">25 Jul 2022</text>
<text x="773" y="518" font-size="10" fill="#000" stroke="#000" stroke-width="0.25" textLength="46.5" lengthAdjust="spacingAndGlyphs" text-anchor="start" font-weight="normal">3 Aug 2022</text>
<text x="837" y="518" font-size="10" fill="#000" stroke="#000" stroke-width="0.25" textLength="51.5" lengthAdjust="spacingAndGlyphs" text-anchor="start" font-weight="normal">12 Aug 2022</text>
<text x="901" y="518" font-size="10" fill="#000" stroke="#000" stroke-width="0.25" textLength="51.5" lengthAdjust="spacingAndGlyphs" text-anchor="start" font-weight="normal">22 Aug 2022</text>
<rect x="2" y="526" width="1211" height="1" fill="#e3e3e3"/>
<rect x="0" y="528" width="1213" height="1" fill="#000"/>
<rect x="0" y="529" width="1213" height="19" fill="#f0f0f0"/>
<rect x="0" y="548" width="1213" height="1" fill="#ffffff"/>
<rect x="0" y="549" width="1213" height="3" fill="#ececec"/>
<rect x="0" y="552" width="1213" height="1" fill="#a0a0a0"/>
<rect x="0" y="553" width="1213" height="2" fill="#ffffff"/>
<rect x="0" y="529" width="1" height="18" fill="#a0a0a0"/>
<rect x="1" y="529" width="1" height="18" fill="#696969"/>
<rect x="214" y="528" width="108" height="19" fill="#ffffff"/>
<rect x="214" y="528" width="1" height="19" fill="#000"/>
<rect x="321" y="528" width="1" height="19" fill="#000"/>
<rect x="214" y="546" width="108" height="1" fill="#000"/>
<text x="16.7" y="543" font-size="12" fill="#6a6a6a" textLength="78.3" lengthAdjust="spacingAndGlyphs" text-anchor="start" font-weight="normal">USDX,Weekly</text>
<text x="117" y="543" font-size="12" fill="#6a6a6a" textLength="85" lengthAdjust="spacingAndGlyphs" text-anchor="start" font-weight="normal">EURUSD-,Daily</text>
<text x="224" y="543" font-size="12" fill="#000" textLength="87" lengthAdjust="spacingAndGlyphs" text-anchor="start" font-weight="normal">AUDUSD-,Daily</text>
<text x="334" y="543" font-size="12" fill="#6a6a6a" textLength="84.5" lengthAdjust="spacingAndGlyphs" text-anchor="start" font-weight="normal">USDCHF-,Daily</text>
<text x="441.7" y="543" font-size="12" fill="#6a6a6a" textLength="85.3" lengthAdjust="spacingAndGlyphs" text-anchor="start" font-weight="normal">USDCAD-,Daily</text>
<text x="550.7" y="543" font-size="12" fill="#6a6a6a" textLength="87.3" lengthAdjust="spacingAndGlyphs" text-anchor="start" font-weight="normal">USDCNH-,Daily</text>
<text x="661.7" y="543" font-size="12" fill="#6a6a6a" textLength="85.3" lengthAdjust="spacingAndGlyphs" text-anchor="start" font-weight="normal">XAUUSD-,Daily</text>
<text x="769" y="543" font-size="12" fill="#6a6a6a" textLength="57.5" lengthAdjust="spacingAndGlyphs" text-anchor="start" font-weight="normal">UKOil-,H4</text>
<text x="850" y="543" font-size="12" fill="#6a6a6a" textLength="67.8" lengthAdjust="spacingAndGlyphs" text-anchor="start" font-weight="normal">USOil-,Daily</text>
<text x="940" y="543" font-size="12" fill="#6a6a6a" textLength="54.8" lengthAdjust="spacingAndGlyphs" text-anchor="start" font-weight="normal">HK50-,H1</text>
<text x="1016" y="543" font-size="12" fill="#6a6a6a" textLength="70.7" lengthAdjust="spacingAndGlyphs" text-anchor="start" font-weight="normal">EURCHF-,H1</text>
<text x="1109.8" y="543" font-size="12" fill="#6a6a6a" textLength="56.2" lengthAdjust="spacingAndGlyphs" text-anchor="start" font-weight="normal">USOil-,H4</text>
<rect x="107" y="533" width="1" height="12" fill="#808080"/>
<rect x="431" y="533" width="1" height="12" fill="#808080"/>
<rect x="538" y="533" width="1" height="12" fill="#808080"/>
<rect x="651" y="533" width="1" height="12" fill="#808080"/>
<rect x="759" y="533" width="1" height="12" fill="#808080"/>
<rect x="838" y="533" width="1" height="12" fill="#808080"/>
<rect x="930" y="533" width="1" height="12" fill="#808080"/>
<rect x="1007" y="533" width="1" height="12" fill="#808080"/>
<rect x="1099" y="533" width="1" height="12" fill="#808080"/>
<polygon points="1186.2,533.8 1186.2,540.4 1182.9,537.1" fill="#8c8c8c"/>
<polygon points="1201.8,533.8 1201.8,540.4 1205.3,537.1" fill="#000"/>
</svg>
</body></html>
